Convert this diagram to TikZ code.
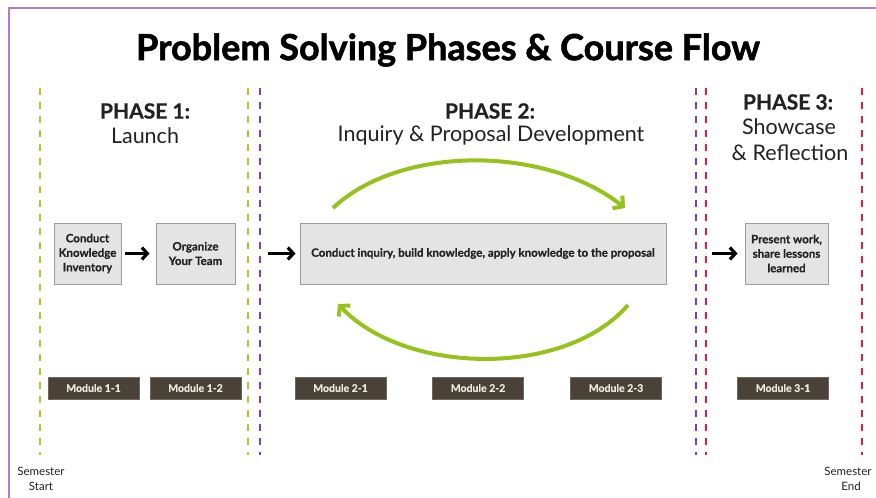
\documentclass[tikz,border=0pt]{standalone}
\usepackage{fontspec}
\setmainfont{Lato}[BoldFeatures={FakeBold=0.6}]
\newfontfamily\titlefont{Lato}[BoldFeatures={FakeBold=1.6}]
\usetikzlibrary{arrows.meta}
\definecolor{limeg}{HTML}{A9CC2A}
\definecolor{arcg}{HTML}{97C21E}
\definecolor{purp}{HTML}{7E3FA8}
\definecolor{redd}{HTML}{E5193F}
\definecolor{frame}{HTML}{B07CC6}
\definecolor{modfill}{HTML}{4A4236}
\definecolor{modtext}{HTML}{ECE8DF}
\definecolor{boxfill}{HTML}{E4E4E4}
\definecolor{boxline}{HTML}{9C9C9C}
\definecolor{ink}{HTML}{222222}
\tikzset{
  phasedash/.style={line width=1.6pt, dash pattern=on 7pt off 7pt},
  stepbox/.style={draw=boxline, fill=boxfill, line width=1pt, minimum height=61pt, inner sep=1pt, align=center, font=\fontsize{11.5}{14.5}\selectfont\bfseries, text=ink},
  modbox/.style={draw=modfill!80!white, fill=modfill, line width=0.6pt, minimum width=91pt, minimum height=22pt, inner sep=0pt, font=\fontsize{10.5}{12}\selectfont\bfseries, text=modtext},
  phasehead/.style={font=\fontsize{21}{24}\selectfont\bfseries, text=ink},
  phasesub/.style={font=\fontsize{21.5}{26}\selectfont, text=ink, align=center},
  blackarrow/.style={line width=3.2pt, -{Straight Barb[length=5.5pt, width=12pt, line width=3.2pt]}},
  greenarc/.style={draw=arcg, line width=4pt, -{Straight Barb[length=7pt, width=16pt, line width=4pt]}},
  semlabel/.style={font=\fontsize{11.5}{13}\selectfont, text=ink, align=center},
}
\begin{document}
\begin{tikzpicture}[x=1pt, y=-1pt]
\useasboundingbox (0,0) rectangle (876,498);
\fill[white] (0,0) rectangle (876,498);
% frame lines
\coordinate (ftl) at (9,8);
\coordinate (ftr) at (876,8);
\coordinate (fbl) at (9,498);
\draw[frame, line width=1.4pt] (fbl) -- (ftl) -- (ftr);

% title
\node[font=\fontsize{36}{40}\selectfont\titlefont\bfseries, text=black] (title) at (448,50) {Problem Solving Phases \& Course Flow};

% phase separators
\coordinate (g1t) at (40,88);  \coordinate (g1b) at (40,455);
\coordinate (g2t) at (248,88); \coordinate (g2b) at (248,455);
\coordinate (p1t) at (260,88); \coordinate (p1b) at (260,455);
\coordinate (p2t) at (696,88); \coordinate (p2b) at (696,455);
\coordinate (r1t) at (706,88); \coordinate (r1b) at (706,455);
\coordinate (r2t) at (862,88); \coordinate (r2b) at (862,455);
\draw[phasedash, limeg] (g1t) -- (g1b);
\draw[phasedash, limeg] (g2t) -- (g2b);
\draw[phasedash, purp] (p1t) -- (p1b);
\draw[phasedash, purp] (p2t) -- (p2b);
\draw[phasedash, redd] (r1t) -- (r1b);
\draw[phasedash, redd] (r2t) -- (r2b);

% phase headings
\node[phasehead] (ph1) at (145,111) {PHASE 1:};
\node[phasesub] (ph1s) at (145,136) {Launch};
\node[phasehead] (ph2) at (490,111) {PHASE 2:};
\node[phasesub] (ph2s) at (491,135) {Inquiry \& Proposal Development};
\node[phasehead] (ph3) at (788,102) {PHASE 3:};
\node[phasesub] (ph3s) at (789,127) {Showcase};
\node[phasesub] (ph3t) at (790,153) {\& Reflection};

% step boxes
\node[stepbox, minimum width=67pt] (b1) at (87.5,253.5) {Conduct\\Knowledge\\Inventory};
\node[stepbox, minimum width=79pt] (b2) at (195.5,253.5) {Organize\\Your Team};
\node[stepbox, minimum width=366pt] (b3) at (483,253.5) {Conduct inquiry, build knowledge, apply knowledge to the proposal};
\node[stepbox, minimum width=83pt] (b4) at (786.5,253.5) {Present work,\\share lessons\\learned};

% black arrows
\coordinate (a2s) at (268,253.5);
\coordinate (a3s) at (712,253.5);
\draw[blackarrow, shorten <=3pt, shorten >=6pt] (b1) -- (b2);
\draw[blackarrow, shorten >=4pt] (a2s) -- (b3);
\draw[blackarrow, shorten >=7pt] (a3s) -- (b4);

% green cycle arcs
\coordinate (tops) at (333,208);
\coordinate (tope) at (625,208);
\coordinate (bots) at (628,305);
\coordinate (bote) at (338,304);
\draw[greenarc] (tops) .. controls (400,145) and (545,145) .. (tope);
\draw[greenarc] (bots) .. controls (565,378) and (405,375) .. (bote);

% module boxes
\node[modbox] (m11) at (93.5,388) {Module 1-1};
\node[modbox] (m12) at (195.5,388) {Module 1-2};
\node[modbox] (m21) at (340.5,388) {Module 2-1};
\node[modbox] (m22) at (478,388) {Module 2-2};
\node[modbox] (m23) at (616,388) {Module 2-3};
\node[modbox] (m31) at (783,388) {Module 3-1};

% semester labels
\node[semlabel] (ss1) at (41,471) {Semester};
\node[semlabel] (ss2) at (41,486) {Start};
\node[semlabel] (se1) at (848,471) {Semester};
\node[semlabel] (se2) at (851,486) {End};
\end{tikzpicture}
\end{document}
